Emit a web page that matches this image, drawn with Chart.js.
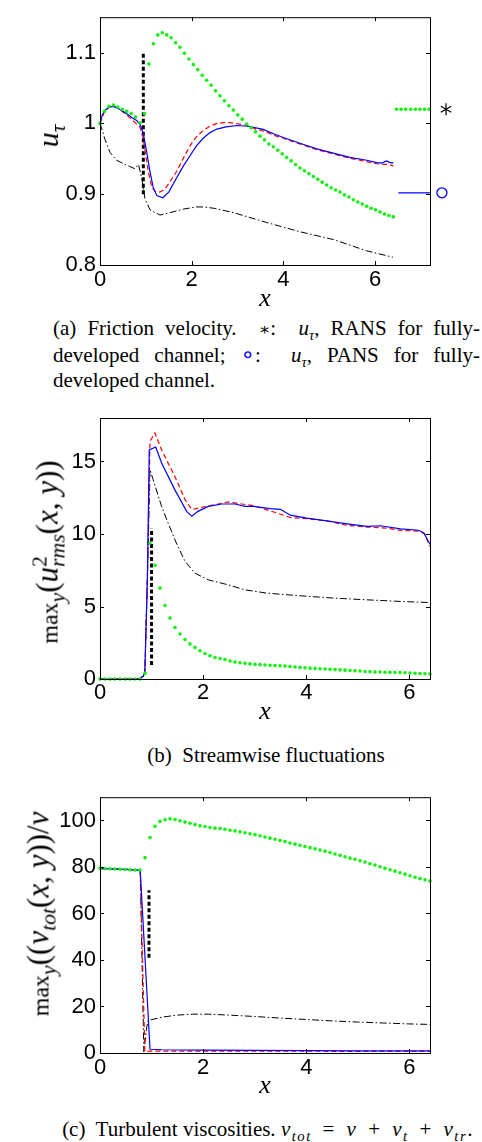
<!DOCTYPE html>
<html>
<head>
<meta charset="utf-8">
<script src="https://cdn.jsdelivr.net/npm/chart.js@4.4.0/dist/chart.umd.min.js"></script>
<style>
  body { margin: 0; background: #fff; }
  #page { position: relative; width: 482px; height: 1142px; overflow: hidden; color: #000;
          font-family: "Liberation Serif", "Times New Roman", serif; }
  canvas { position: absolute; left: 0; }
  .ylab, .xlab { position: absolute; white-space: nowrap; line-height: 1; }
  .ylab { transform: translate(-50%, -50%) rotate(-90deg); font-size: 31px; }
  .xlab { transform: translate(-50%, -50%); font-size: 26px; font-style: italic; }
  .ylab .op { font-size: 24px; }
  .cap { position: absolute; font-size: 21px; line-height: 26px; white-space: nowrap; }
  .just { width: 427px; text-align: justify; text-align-last: justify; }
  .mid { transform: translateX(-50%); }
  .math { letter-spacing: 1.5px; word-spacing: 4px; }
  .ast { font-family: "DejaVu Serif", serif; font-size: 0.8em; }
  sub, sup { font-size: 0.7em; line-height: 0; }
  .ring { color: #0000ff; font-family: "DejaVu Sans", sans-serif; font-size: 1.1em; }
</style>
</head>
<body>
<div id="page">
  <canvas id="chartA" width="482" height="300" style="top:0px"></canvas>
  <canvas id="chartB" width="482" height="310" style="top:400px"></canvas>
  <canvas id="chartC" width="482" height="300" style="top:780px"></canvas>

  <div class="ylab" style="left:48px; top:136px; font-size:30px"><i>u</i><sub><i>τ</i></sub></div>
  <div class="xlab" style="left:265px; top:298px">x</div>
  <div class="cap just" style="left:53px; top:315px">(a) Friction velocity. &nbsp;<span class="ast">∗</span>: &nbsp;<i>u</i><sub><i>τ</i></sub>, RANS for fully-</div>
  <div class="cap just" style="left:53px; top:341px">developed channel; <span class="ring">∘</span>: &nbsp;<i>u</i><sub><i>τ</i></sub>, PANS for fully-</div>
  <div class="cap" style="left:53px; top:367px">developed channel.</div>

  <div class="ylab" style="left:47px; top:552px"><span class="op">max</span><sub><i>y</i></sub>(<i>u</i><sup>2</sup><sub style="margin-left:-0.5em"><i>rms</i></sub>(<i>x</i>, <i>y</i>))</div>
  <div class="xlab" style="left:265px; top:711px">x</div>
  <div class="cap mid" style="left:266px; top:742px">(b)&nbsp; Streamwise fluctuations</div>

  <div class="ylab" style="left:38px; top:914px"><span class="op">max</span><sub><i>y</i></sub>((<i>ν</i><sub><i>tot</i></sub>(<i>x</i>, <i>y</i>))/<i>ν</i></div>
  <div class="xlab" style="left:265px; top:1085px">x</div>
  <div class="cap mid" style="left:268px; top:1116px">(c)&nbsp; Turbulent viscosities. <span class="math"><i>ν</i><sub><i>tot</i></sub> = <i>ν</i> + <i>ν</i><sub><i>t</i></sub> + <i>ν</i><sub><i>tr</i></sub>.</span></div>
</div>

<script>
// streamwise stations of the RANS samples (dotted green markers)
const xGrid = [0, 0.097, 0.194, 0.291, 0.388, 0.485, 0.582, 0.679, 0.776, 0.873,
  0.970, 1.067, 1.164, 1.261, 1.358, 1.455, 1.552, 1.648, 1.745, 1.842,
  1.939, 2.036, 2.133, 2.230, 2.327, 2.424, 2.521, 2.618, 2.715, 2.812,
  2.909, 3.006, 3.103, 3.200, 3.297, 3.394, 3.491, 3.588, 3.685, 3.782,
  3.879, 3.976, 4.073, 4.170, 4.267, 4.364, 4.461, 4.558, 4.655, 4.752,
  4.848, 4.945, 5.042, 5.139, 5.236, 5.333, 5.430, 5.527, 5.624, 5.721,
  5.818, 5.915, 6.012, 6.109, 6.206, 6.303, 6.400];

// (a) friction velocity
const ransA = [1.000, 1.017, 1.024, 1.026, 1.023, 1.020, 1.017, 1.014, 1.009, 1.001,
  1.014, 1.084, 1.1125, 1.125, 1.128, 1.125, 1.121, 1.114, 1.1075, 1.099,
  1.091, 1.083, 1.076, 1.068, 1.061, 1.054, 1.046, 1.039, 1.032, 1.025,
  1.019, 1.012, 1.006, 0.999, 0.994, 0.988, 0.982, 0.977, 0.971, 0.967,
  0.962, 0.957, 0.952, 0.947, 0.942, 0.937, 0.933, 0.929, 0.925, 0.921,
  0.917, 0.913, 0.909, 0.906, 0.903, 0.899, 0.896, 0.892, 0.889, 0.886,
  0.883, 0.880, 0.878, 0.875, 0.872, 0.870, 0.868];
const pansAx = [0, 0.05, 0.1, 0.2, 0.3, 0.4, 0.5, 0.6, 0.7, 0.8, 0.87, 0.945, 1.02, 1.09,
  1.16, 1.24, 1.37, 1.5, 1.67, 1.82, 1.96, 2.1, 2.25, 2.4, 2.55, 2.75, 2.98, 3.24,
  3.56, 3.8, 4.0, 4.36, 4.73, 5.09, 5.45, 5.82, 6.04, 6.15, 6.25, 6.32, 6.4];
const pansAy = [1.0, 1.012, 1.018, 1.023, 1.024, 1.021, 1.017, 1.013, 1.008, 1.004, 0.999,
  0.986, 0.959, 0.932, 0.910, 0.898, 0.895, 0.903, 0.923, 0.940, 0.954, 0.968, 0.979,
  0.987, 0.992, 0.995, 0.997, 0.996, 0.9915, 0.985, 0.980, 0.972, 0.964, 0.958, 0.952,
  0.948, 0.9445, 0.944, 0.947, 0.945, 0.944];
const lesAx = [0, 0.1, 0.2, 0.3, 0.4, 0.5, 0.6, 0.7, 0.8, 0.87, 0.94, 1.0, 1.06, 1.13,
  1.2, 1.3, 1.4, 1.5, 1.67, 1.82, 1.96, 2.1, 2.25, 2.4, 2.55, 2.7, 2.84, 3.0, 3.2,
  3.4, 3.63, 3.8, 4.0, 4.36, 4.73, 5.09, 5.45, 5.82, 6.04, 6.2, 6.3, 6.4];
const lesAy = [1.0, 1.017, 1.023, 1.024, 1.021, 1.016, 1.011, 1.005, 0.999, 0.995, 0.98,
  0.955, 0.93, 0.91, 0.904, 0.903, 0.906, 0.915, 0.932, 0.951, 0.968, 0.981, 0.990,
  0.996, 1.0, 1.001, 1.001, 0.9995, 0.997, 0.992, 0.988, 0.983, 0.979, 0.971, 0.963,
  0.957, 0.951, 0.946, 0.943, 0.942, 0.942, 0.940];
const resAx = [0, 0.05, 0.11, 0.22, 0.36, 0.58, 0.76, 0.84, 0.91, 0.98, 1.09, 1.31,
  1.53, 1.82, 2.11, 2.25, 2.5, 2.91, 3.64, 4.36, 5.09, 5.82, 6.39];
const resAy = [1.0, 0.99, 0.977, 0.959, 0.948, 0.941, 0.936, 0.942, 0.923, 0.894, 0.878,
  0.8705, 0.874, 0.879, 0.882, 0.882, 0.880, 0.874, 0.860, 0.847, 0.836, 0.820, 0.811];
const interfaceA = [0.945, 0.9, 1.1];          // x, y from, y to
const channelRansX = [6.47, 6.57, 6.67, 6.78, 6.88, 6.98, 7.08, 7.18];
const channelRansY = [1.02, 1.02, 1.02, 1.02, 1.02, 1.02, 1.02, 1.02];
const channelPansX = [6.51, 7.2];
const channelPansY = [0.902, 0.902];
const markStar = { x: 7.55, y: 1.02 };
const markRing = { x: 7.46, y: 0.902 };

// (b) streamwise fluctuations
const ransB = [0, 0, 0, 0, 0, 0, 0, 0, 0, 0.39,
  9.38, 7.85, 6.27, 5.07, 4.2, 3.55, 3.1, 2.72, 2.42, 2.18,
  1.95, 1.76, 1.6, 1.48, 1.41, 1.34, 1.24, 1.17, 1.12, 1.08,
  1.04, 1.01, 0.99, 0.97, 0.95, 0.93, 0.91, 0.89, 0.86, 0.83,
  0.80, 0.77, 0.75, 0.73, 0.71, 0.69, 0.67, 0.65, 0.63, 0.61,
  0.59, 0.57, 0.55, 0.52, 0.50, 0.49, 0.48, 0.47, 0.46, 0.45,
  0.44, 0.43, 0.41, 0.40, 0.38, 0.36, 0.35];
const pansBx = [0, 0.71, 0.78, 0.84, 0.87, 0.92, 0.955, 1.08, 1.195, 1.45, 1.68, 1.78,
  1.9, 2.1, 2.36, 2.62, 2.81, 2.98, 3.3, 3.5, 3.69, 4.01, 4.4, 4.79, 5.18, 5.44, 5.83,
  6.18, 6.28, 6.4];
const pansBy = [0, 0, 0.05, 0.2, 0.5, 7.07, 15.8, 16.0, 14.9, 13.06, 11.56, 11.22,
  11.56, 11.9, 12.07, 12.07, 11.9, 11.9, 11.75, 11.7, 11.3, 11.1, 10.9, 10.7, 10.52,
  10.57, 10.36, 10.26, 10.07, 9.3];
const lesBx = [0, 0.71, 0.78, 0.84, 0.87, 0.92, 0.97, 1.065, 1.195, 1.45, 1.65, 1.78,
  1.97, 2.23, 2.49, 2.75, 2.98, 3.37, 3.69, 4.01, 4.4, 4.79, 5.18, 5.57, 5.83, 6.18,
  6.3, 6.39];
const lesBy = [0, 0, 0.05, 0.2, 0.5, 7.3, 16.4, 16.98, 15.8, 13.98, 12.37, 11.68,
  11.84, 12.02, 12.21, 12.07, 11.95, 11.52, 11.14, 11.05, 10.9, 10.6, 10.48, 10.4,
  10.25, 10.2, 10.0, 9.16];
const resBx = [0, 0.71, 0.78, 0.84, 0.87, 0.92, 0.97, 1.03, 1.195, 1.32, 1.48, 1.65,
  1.84, 2.1, 2.48, 2.81, 3.24, 3.88, 4.53, 5.18, 5.83, 6.39];
const resBy = [0, 0, 0.05, 0.2, 0.4, 7, 14.44, 13.75, 11.9, 10.76, 9.38, 8.11, 7.3,
  6.84, 6.5, 6.15, 5.92, 5.74, 5.58, 5.46, 5.35, 5.27];
const interfaceB = [1.0, 0.97, 10.4];

// (c) turbulent viscosities
const ransC = [79.4, 79.3, 79.2, 79.1, 79.0, 78.9, 78.8, 78.7, 78.7, 84.0,
  92.7, 97.5, 99.6, 100.3, 100.7, 100.4, 99.9, 99.3, 98.8, 98.2,
  97.7, 97.4, 97.0, 96.7, 96.5, 96.2, 95.8, 95.5, 95.1, 94.7,
  94.3, 93.9, 93.4, 92.9, 92.4, 91.9, 91.4, 90.9, 90.3, 89.8,
  89.3, 88.8, 88.3, 87.8, 87.3, 86.8, 86.2, 85.6, 85.0, 84.4,
  83.8, 83.3, 82.7, 82.1, 81.4, 80.8, 80.1, 79.4, 78.8, 78.2,
  77.5, 76.9, 76.2, 75.6, 75.0, 74.5, 74.0];
const pansCx = [0, 0.5, 0.78, 0.97, 1.2, 2, 3, 4, 5, 6.4];
const pansCy = [79.3, 79.0, 78.6, 1.6, 1.4, 1.2, 1.1, 1.0, 0.95, 0.9];
const lesCx = [0, 0.5, 0.78, 0.87, 1.0, 2, 4, 6.4];
const lesCy = [79.3, 79.0, 78.6, 0.7, 0.8, 0.8, 0.75, 0.7];
const resCx = [0, 0.5, 0.78, 0.85, 0.9, 0.93, 1.03, 1.2, 1.5, 1.8, 2.1, 2.5, 3, 3.5,
  4, 4.5, 5, 5.5, 6, 6.4];
const resCy = [79.3, 79.0, 78.6, 0.5, 10, 14, 14.5, 15.4, 16.3, 16.7, 16.7, 16.3, 15.7,
  15.0, 14.4, 13.8, 13.3, 12.9, 12.5, 12.3];
const interfaceC = [0.95, 41, 70];

const GREEN = '#0ef00e';
const tickFont = { family: '"Liberation Sans", Arial, sans-serif', size: 22 };

const pts = (xs, ys) => xs.map((x, i) => ({ x: x, y: ys[i] }));

function dotSet(xs, ys) {
  return { data: pts(xs, ys), showLine: false, pointRadius: 1.8,
    pointBackgroundColor: GREEN, pointBorderColor: GREEN, pointBorderWidth: 0, clip: false };
}
function lineSet(xs, ys, color, width, dash) {
  return { data: pts(xs, ys), showLine: true, borderColor: color, borderWidth: width,
    borderDash: dash || [], pointRadius: 0, borderCapStyle: 'butt', fill: false };
}
function interfaceSet(v) {
  return lineSet([v[0], v[0]], [v[1], v[2]], '#000', 3, [4, 2.5]);
}

// box around the plot with inward tick marks on all four sides
const frame = {
  id: 'frame',
  afterDraw(chart) {
    const { ctx, chartArea: a, scales: { x, y } } = chart;
    const len = 4;
    ctx.save();
    ctx.strokeStyle = '#000';
    ctx.lineWidth = 1;
    ctx.beginPath();
    x.ticks.forEach(t => {
      const p = Math.round(x.getPixelForValue(t.value)) + 0.5;
      ctx.moveTo(p, a.bottom); ctx.lineTo(p, a.bottom - len);
      ctx.moveTo(p, a.top); ctx.lineTo(p, a.top + len);
    });
    y.ticks.forEach(t => {
      const p = Math.round(y.getPixelForValue(t.value)) + 0.5;
      ctx.moveTo(a.left, p); ctx.lineTo(a.left + len, p);
      ctx.moveTo(a.right, p); ctx.lineTo(a.right - len, p);
    });
    ctx.stroke();
    ctx.strokeRect(a.left + 0.5, a.top + 0.5, a.right - a.left, a.bottom - a.top);
    ctx.restore();
  }
};

// key marks beside the plot box: asterisk (RANS channel) and ring (PANS channel)
const channelMarks = {
  id: 'channelMarks',
  afterDraw(chart) {
    const { ctx, scales: { x, y } } = chart;
    ctx.save();
    const sx = x.getPixelForValue(markStar.x), sy = y.getPixelForValue(markStar.y);
    ctx.strokeStyle = '#000';
    ctx.lineWidth = 1.2;
    ctx.beginPath();
    for (let k = 0; k < 3; k++) {
      const a = Math.PI / 2 + k * Math.PI / 3;
      ctx.moveTo(sx + 6 * Math.cos(a), sy + 6 * Math.sin(a));
      ctx.lineTo(sx - 6 * Math.cos(a), sy - 6 * Math.sin(a));
    }
    ctx.stroke();
    ctx.strokeStyle = '#0000ff';
    ctx.lineWidth = 1.3;
    ctx.beginPath();
    ctx.arc(x.getPixelForValue(markRing.x), y.getPixelForValue(markRing.y), 5, 0, Math.PI * 2);
    ctx.stroke();
    ctx.restore();
  }
};

function makeChart(id, cfg) {
  return new Chart(document.getElementById(id), {
    type: 'scatter',
    data: { datasets: cfg.datasets },
    options: {
      responsive: false,
      animation: false,
      events: [],
      layout: { padding: { top: cfg.padTop, right: 52, left: 0, bottom: 0 } },
      plugins: { legend: { display: false }, tooltip: { enabled: false } },
      scales: {
        x: {
          type: 'linear', min: 0, max: cfg.xMax,
          afterFit: s => { s.height = cfg.axisH; },
          grid: { display: false, drawTicks: false },
          border: { display: false },
          ticks: { stepSize: 2, includeBounds: false, padding: cfg.xPad, color: '#000',
                   font: tickFont, maxRotation: 0 }
        },
        y: {
          min: cfg.yMin, max: cfg.yMax,
          afterFit: s => { s.width = 100; },
          grid: { display: false, drawTicks: false },
          border: { display: false },
          ticks: { stepSize: cfg.yStep, includeBounds: false, padding: 4, color: '#000',
                   font: tickFont, callback: v => String(Number(v.toFixed(2))) }
        }
      }
    },
    plugins: [frame].concat(cfg.extra || [])
  });
}

makeChart('chartA', {
  padTop: 4, axisH: 35, xPad: 2, xMax: 7.2, yMin: 0.8, yMax: 1.15, yStep: 0.1,
  extra: [channelMarks],
  datasets: [
    dotSet(xGrid, ransA),
    dotSet(channelRansX, channelRansY),
    lineSet(pansAx, pansAy, '#0000ff', 1.2),
    lineSet(channelPansX, channelPansY, '#0000ff', 1.2),
    lineSet(lesAx, lesAy, '#ff0000', 1.2, [5, 3]),
    lineSet(resAx, resAy, '#000', 1, [7, 2.5, 1.5, 2.5]),
    interfaceSet(interfaceA)
  ]
});

makeChart('chartB', {
  padTop: 18, axisH: 31, xPad: 1, xMax: 6.4, yMin: 0, yMax: 18, yStep: 5,
  datasets: [
    dotSet(xGrid, ransB),
    lineSet(pansBx, pansBy, '#0000ff', 1.2),
    lineSet(lesBx, lesBy, '#ff0000', 1.2, [5, 3]),
    lineSet(resBx, resBy, '#000', 1, [7, 2.5, 1.5, 2.5]),
    interfaceSet(interfaceB)
  ]
});

makeChart('chartC', {
  padTop: 13, axisH: 27, xPad: 2, xMax: 6.4, yMin: 0, yMax: 110, yStep: 20,
  datasets: [
    dotSet(xGrid, ransC),
    lineSet(pansCx, pansCy, '#0000ff', 1.2),
    lineSet(lesCx, lesCy, '#ff0000', 1.2, [5, 3]),
    lineSet(resCx, resCy, '#000', 1, [7, 2.5, 1.5, 2.5]),
    interfaceSet(interfaceC)
  ]
});
</script>
</body>
</html>
